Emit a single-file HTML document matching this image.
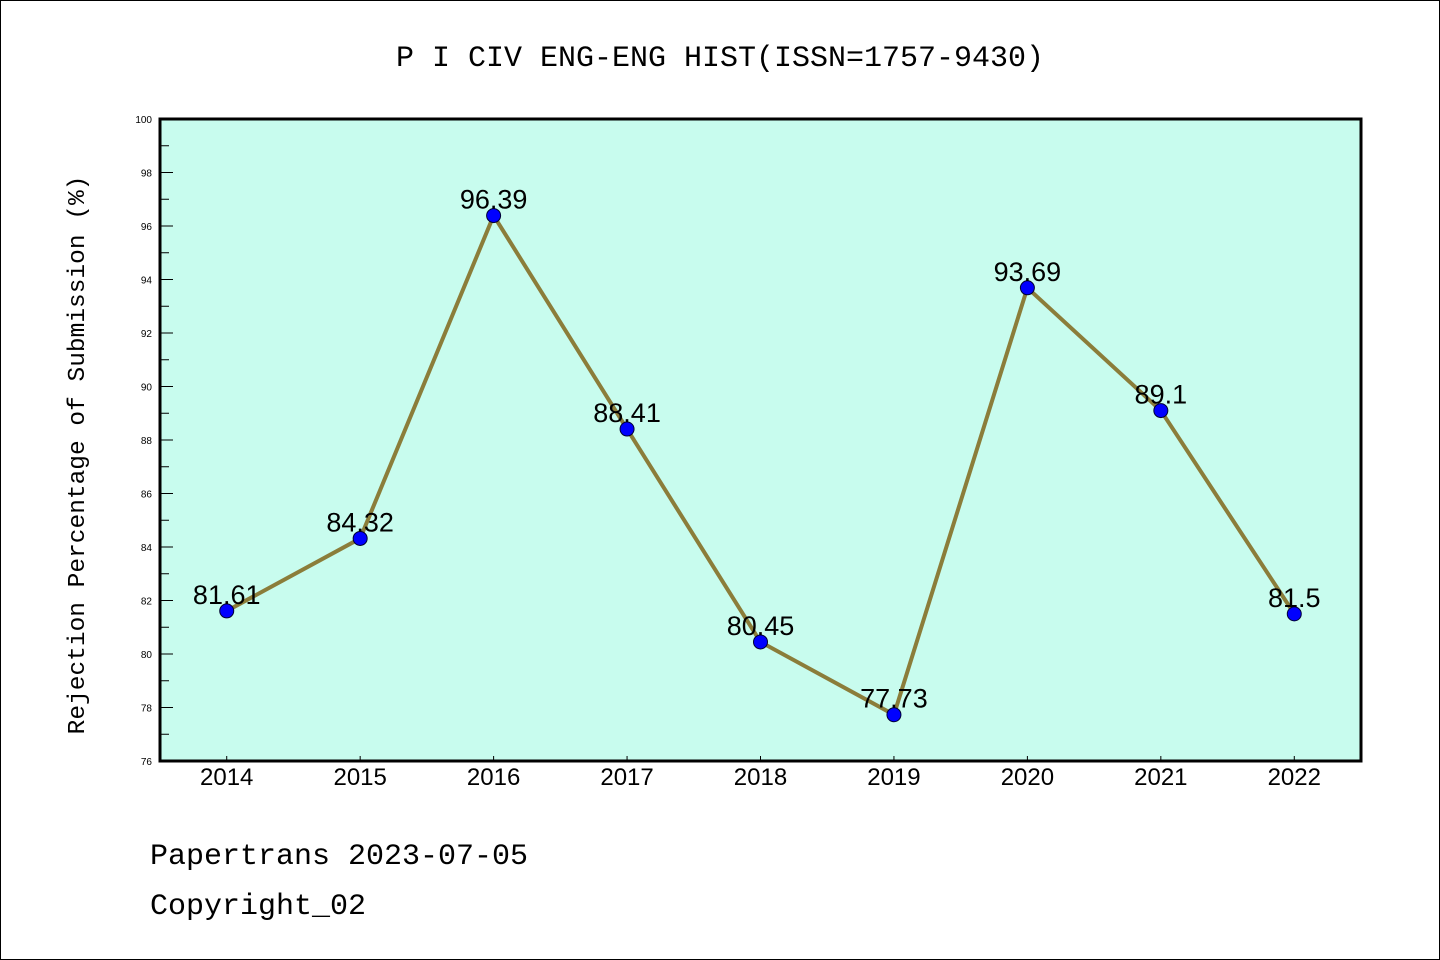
<!DOCTYPE html>
<html><head><meta charset="utf-8"><style>
html,body{margin:0;padding:0;background:#fff;}
svg{display:block;}
</style></head><body>
<svg id="chart" width="1440" height="960" xmlns="http://www.w3.org/2000/svg">
<rect x="0.5" y="0.5" width="1439" height="959" fill="#fff" stroke="#000" stroke-width="1"/>
<text x="720" y="66" text-anchor="middle" font-family="Liberation Mono, monospace" font-size="30">P I CIV ENG-ENG HIST(ISSN=1757-9430)</text>
<rect x="160" y="119" width="1201" height="642" fill="#c8fcee"/>
<g id="yaxis"></g>
<g id="xaxis"></g>
<g id="series"></g>
<rect x="160" y="119" width="1201" height="642" fill="none" stroke="#000" stroke-width="3"/>
<text transform="translate(84,455) rotate(-90)" text-anchor="middle" font-family="Liberation Mono, monospace" font-size="24.5">Rejection Percentage of Submission (%)</text>
<text x="150" y="864" font-family="Liberation Mono, monospace" font-size="30">Papertrans 2023-07-05</text>
<text x="150" y="914" font-family="Liberation Mono, monospace" font-size="30">Copyright_02</text>
</svg>
<script>
const categories = ["2014","2015","2016","2017","2018","2019","2020","2021","2022"];
const values = [81.61,84.32,96.39,88.41,80.45,77.73,93.69,89.1,81.5];
const valueLabels = ["81.61","84.32","96.39","88.41","80.45","77.73","93.69","89.1","81.5"];
const yTicks = [76,78,80,82,84,86,88,90,92,94,96,98,100];
const yMinorTicks = [77,79,81,83,85,87,89,91,93,95,97,99];

const NS="http://www.w3.org/2000/svg";
const L=160,R=1361,T=119,B=761,yMin=76,yMax=100;
const step=(R-L)/categories.length;
function xPos(i){return L+step*(i+0.5);}
function yPos(v){return B-(v-yMin)/(yMax-yMin)*(B-T);}
function mk(tag,attrs,parent){const e=document.createElementNS(NS,tag);for(const k in attrs)e.setAttribute(k,attrs[k]);parent.appendChild(e);return e;}

const ya=document.getElementById('yaxis');
yTicks.forEach(v=>{
  const y=yPos(v);
  const t=mk('line',{x1:L,x2:L+13,y1:y,y2:y,stroke:'#000','stroke-width':1},ya);
  
  
  const lb=mk('text',{x:152,y:y+4,'text-anchor':'end','font-family':'Liberation Sans, sans-serif','font-size':10},ya);
  
  
  lb.textContent=v;
});
yMinorTicks.forEach(v=>{
  const y=yPos(v);
  const t=mk('line',{x1:L,x2:L+9,y1:y,y2:y,stroke:'#000','stroke-width':1},ya);
  
  
});
const xa=document.getElementById('xaxis');
categories.forEach((c,i)=>{
  const x=xPos(i);
  const t=mk('line',{x1:x,x2:x,y1:B-5,y2:B,stroke:'#000','stroke-width':1},xa);
  
  
  const lb=mk('text',{x:x,y:785,'text-anchor':'middle','font-family':'Liberation Sans, sans-serif','font-size':24},xa);
  
  
  lb.textContent=c;
});
const s=document.getElementById('series');
const pts=values.map((v,i)=>xPos(i)+','+yPos(v)).join(' ');
const line=mk('polyline',{points:pts,fill:'none',stroke:'#8b7d3a','stroke-width':4,'stroke-linejoin':'round'},s);


values.forEach((v,i)=>{
  const c=mk('circle',{cx:xPos(i),cy:yPos(v),r:7,fill:'#0000ff',stroke:'#000033','stroke-width':1},s);
  
  
  const lb=mk('text',{x:xPos(i),y:yPos(v)-7,'text-anchor':'middle','font-family':'Liberation Sans, sans-serif','font-size':27},s);
  
  
  lb.textContent=valueLabels[i];
});
</script>
</body></html>
